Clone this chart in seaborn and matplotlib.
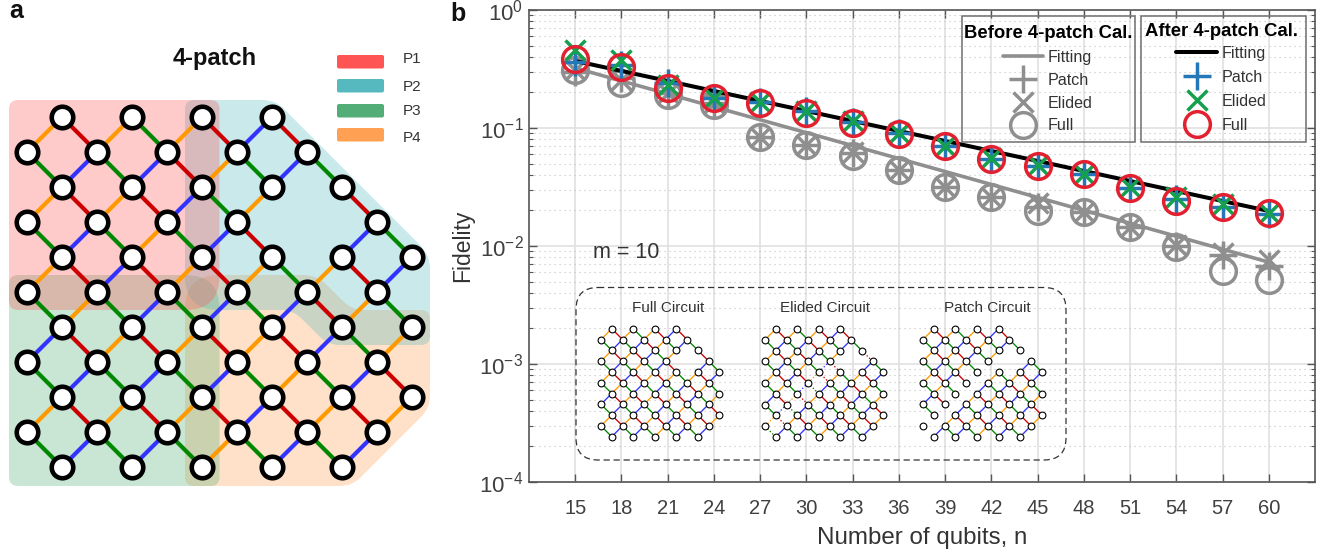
import numpy as np
import pandas as pd
import matplotlib
matplotlib.use("Agg")
import matplotlib.pyplot as plt
import seaborn as sns
from matplotlib.collections import LineCollection
from matplotlib.lines import Line2D
from matplotlib.patches import FancyBboxPatch, PathPatch, Rectangle
from matplotlib.path import Path
from matplotlib.ticker import FixedLocator, LogLocator, NullFormatter

# ---------- panel b data ----------
qubits = [15, 18, 21, 24, 27, 30, 33, 36, 39, 42, 45, 48, 51, 54, 57, 60]
before_patch = [.300, .265, .198, .163, .0839, .0718, .0618, .0441, .0316, .0260, .0215, .0195, .01449, .0100, .00839, .00677]
before_elided = [.310, .255, .198, .163, .0839, .0718, .0626, .0441, .0316, .0260, .0231, .0195, .0146, .0102, .00873, .0076]
before_full = [.310, .242, .1905, .1566, .0839, .0718, .0579, .0441, .0316, .0260, .0199, .0195, .01449, .00981, .00618, .00515]
after_patch = [.365, .342, .240, .180, .167, .138, .113, .091, .0705, .055, .0478, .0405, .0312, .025, .0216, .0188]
after_elided = [.458, .377, .231, .180, .166, .139, .115, .091, .071, .0555, .0487, .0407, .0315, .0262, .0226, .019]
after_full = [.384, .329, .218, .180, .163, .134, .111, .089, .0704, .0546, .0476, .0407, .031, .0241, .0214, .019]
fit_n = [15, 60]
before_fit = [.3225, .0073]
after_fit = [.37, .0198]
y_ticks = [1e-4, 1e-3, 1e-2, 1e-1, 1e0]

# ---------- lattice data (occupied columns per row, edge colour per row gap) ----------
row_cols = [
    [1, 3, 5, 7], [0, 2, 4, 6, 8], [1, 3, 5, 7, 9], [0, 2, 4, 6, 10],
    [1, 3, 5, 7, 9, 11], [0, 2, 4, 6, 8, 10], [1, 3, 5, 7, 9, 11], [0, 2, 4, 6, 8, 10],
    [1, 3, 5, 7, 9, 11], [0, 2, 4, 6, 8, 10], [1, 3, 5, 7, 9],
]
gap_colours = [
    "OROGORBR", "GBGBROGBG", "ORORBGOR", "GBGOGBRBG", "ORBROROGORB", "GOGBGBGBROG",
    "BROROROR" "BGO", "GBGBGBGOGBR", "ORORORBRORO", "GBGBGOGBGB",
]
cut_edges = [(2, 9), (3, 6), (4, 5), (5, 4), (6, 3), (7, 2), (8, 1), (9, 0)]
edge_palette = {"R": "#CC0000", "G": "#008800", "B": "#3333FF", "O": "#FF9900"}

patch_names = ["P1", "P2", "P3", "P4"]
patch_colours = ["#FF5050", "#52B8BE", "#4FAC73", "#FF9E4F"]
circuit_names = ["Full Circuit", "Elided Circuit", "Patch Circuit"]

W, H = 1338, 560
TXT = "#333333"
GRAY, BLUE, GREEN, RED = "#8F8F8F", "#2478B8", "#14A04C", "#E3202F"

sns.set_theme(style="ticks")
plt.rcParams["font.family"] = ["Liberation Sans", "DejaVu Sans"]
plt.rcParams["mathtext.default"] = "regular"
plt.rcParams["axes.unicode_minus"] = False

fig = plt.figure(figsize=(W / 100, H / 100), dpi=100, facecolor="white")


def px_axes(x0, y0, x1, y1, zorder):
    return fig.add_axes([x0 / W, 1 - y1 / H, (x1 - x0) / W, (y1 - y0) / H], zorder=zorder)


# ---------- panel b ----------
ax = px_axes(529, 10, 1315, 482, 1)
ax.set_yscale("log")
frame = pd.DataFrame({"n": qubits, "bp": before_patch, "be": before_elided, "bf": before_full,
                      "ap": after_patch, "ae": after_elided, "af": after_full})
fits = pd.DataFrame({"n": fit_n, "b": before_fit, "a": after_fit})


def marks(col, colour, marker, ms, mew):
    sns.lineplot(data=frame, x="n", y=col, ax=ax, estimator=None, errorbar=None, sort=False, legend=False,
                 color=colour, linestyle="", marker=marker, markersize=ms, markerfacecolor="none",
                 markeredgecolor=colour, markeredgewidth=mew, zorder=4, clip_on=False)


MS = {"+": 19.5, "x": 14.5, "o": 18.5}
MW = {"+": 2.5, "x": 2.5, "o": 2.5}
for col, mk in zip(["bp", "be", "bf"], ["+", "x", "o"]):
    marks(col, GRAY, mk, MS[mk], MW[mk])
sns.lineplot(data=fits, x="n", y="b", ax=ax, color=GRAY, linewidth=2.6, estimator=None, errorbar=None, legend=False, zorder=4)
sns.lineplot(data=fits, x="n", y="a", ax=ax, color="black", linewidth=2.9, estimator=None, errorbar=None, legend=False, zorder=4)
for col, colour, mk in zip(["ap", "ae", "af"], [BLUE, GREEN, RED], ["+", "x", "o"]):
    marks(col, colour, mk, MS[mk], MW[mk])

ax.set_xlim(12, 63)
ax.set_ylim(1e-4, 1)
ax.xaxis.set_major_locator(FixedLocator(qubits))
ax.yaxis.set_major_locator(FixedLocator(y_ticks))
ax.yaxis.set_minor_locator(LogLocator(base=10, subs=np.arange(2, 10), numticks=12))
ax.yaxis.set_minor_formatter(NullFormatter())
ax.tick_params(axis="both", which="major", direction="in", length=6, width=1.0, color="#555555",
               top=True, right=True, labelcolor="#404040")
ax.tick_params(axis="x", labelsize=14.5, pad=12)
ax.tick_params(axis="y", labelsize=16, pad=4)
ax.tick_params(axis="y", which="minor", direction="in", length=3, width=0.8, color="#555555", right=True, left=True)
ax.grid(True, which="major", color="#E0E0E0", linewidth=1.2)
ax.grid(True, which="minor", axis="y", color="#C2C2C2", linewidth=0.8, linestyle=(0, (1, 3.5)))
ax.set_axisbelow(True)
for s in ax.spines.values():
    s.set_visible(True)
    s.set_color("#555555")
    s.set_linewidth(1.2)
ax.set_xlabel("Number of qubits, n", fontsize=17.4, color=TXT, labelpad=6.5)
ax.set_ylabel("Fidelity", fontsize=16.5, color=TXT, labelpad=4)


def make_legend(title, cols, line_colour, line_w, x0, y0, spacing, title_gap):
    hs = [Line2D([], [], color=line_colour, lw=line_w, label="Fitting")]
    for lab, c, mk in zip(["Patch", "Elided", "Full"], cols, ["+", "x", "o"]):
        hs.append(Line2D([], [], color=c, linestyle="", marker=mk, markersize=MS[mk], markerfacecolor="none",
                         markeredgecolor=c, markeredgewidth=MW[mk], label=lab))
    leg = ax.legend(handles=hs, title=title, loc="upper left", bbox_to_anchor=(x0 / W, 1 - y0 / H),
                    bbox_transform=fig.transFigure, fontsize=11.6, borderaxespad=0, borderpad=0.28,
                    labelspacing=spacing, handlelength=2.5, handletextpad=0.3, frameon=False,
                    title_fontproperties={"weight": "bold", "size": 13.3})
    leg._legend_box.sep = title_gap
    for t in leg.get_texts():
        t.set_color(TXT)
    leg.get_title().set_color("black")
    leg.set_zorder(6)
    ax.add_artist(leg)


make_legend("Before 4-patch Cal.", [GRAY] * 3, GRAY, 2.6, 959, 20.5, 0.49, 5.6)
make_legend("After 4-patch Cal.", [BLUE, GREEN, RED], "black", 2.9, 1140.5, 18.5, 0.56, 4)
ax.legend_ = None

# ---------- overlay in pixel coordinates ----------
ov = fig.add_axes([0, 0, 1, 1], zorder=2)
ov.set_xlim(0, W)
ov.set_ylim(H, 0)
ov.axis("off")

for x0, x1 in [(962, 1135), (1141, 1306)]:
    ov.add_patch(Rectangle((x0, 15.5), x1 - x0, 126, facecolor="none", edgecolor="#6E6E6E", linewidth=1.1))


def rounded(verts, radii):
    n = len(verts)
    codes, pts = [], []
    for i in range(n):
        p = np.array(verts[i], float)
        a = np.array(verts[i - 1], float)
        b = np.array(verts[(i + 1) % n], float)
        r = radii[i]
        p1 = p + (a - p) / np.linalg.norm(a - p) * r
        p2 = p + (b - p) / np.linalg.norm(b - p) * r
        pts.append(p1)
        codes.append(Path.MOVETO if i == 0 else Path.LINETO)
        pts += [p, p2]
        codes += [Path.CURVE3, Path.CURVE3]
    pts.append(pts[0])
    codes.append(Path.CLOSEPOLY)
    return Path(pts, codes)


R = 34
regions = [
    ([(9, 100), (219.5, 100), (219.5, 310), (9, 310)], [9, 9, R, 9]),
    ([(185, 100), (275, 100), (430, 255), (430, 345), (328, 345), (293, 310), (185, 310)], [9, 12, 14, 9, 12, 12, R]),
    ([(9, 275), (219.5, 275), (219.5, 486), (9, 486)], [9, R, 9, 9]),
    ([(185, 275), (317, 275), (352, 310), (430, 310), (430, 408), (352, 486), (185, 486)], [R, 14, 12, 9, 12, 12, 9]),
]
for (verts, radii), c in reversed(list(zip(regions, patch_colours))):
    ov.add_patch(PathPatch(rounded(verts, radii), facecolor=c, edgecolor="none", alpha=0.3, zorder=1))

for name, c, top, ty in zip(patch_names, patch_colours, [55, 79, 104, 128], [59, 87, 111, 138]):
    ov.add_patch(FancyBboxPatch((337, top), 47, 13.5, boxstyle="round,pad=0,rounding_size=2", facecolor=c,
                                edgecolor="none", alpha=0.98))
    ov.text(403, ty, name, fontsize=11, color=TXT, va="center", ha="left")

ov.text(215, 59, "4-patch", fontsize=17, fontweight="bold", color="#111111", ha="center", va="center")
ov.text(9, 11, "a", fontsize=18, fontweight="bold", color="#111111", ha="left", va="center")
ov.text(450, 14, "b", fontsize=18, fontweight="bold", color="#111111", ha="left", va="center")
ov.text(593, 252, "m = 10", fontsize=15.5, color=TXT, ha="left", va="center")

ov.add_patch(FancyBboxPatch((576, 287.5), 490, 172.5, boxstyle="round,pad=0,rounding_size=22", facecolor="none",
                            edgecolor="#333333", linewidth=0.9, linestyle=(0, (5, 3))))
for name, cx in zip(circuit_names, [668, 825, 987]):
    ov.text(cx, 308, name, fontsize=11, color=TXT, ha="center", va="center")


# ---------- lattices ----------
def lattice(x0, y0, dx, dy, lw, s, node_lw, mode):
    pad = 20
    a = px_axes(x0 - pad, y0 - pad, x0 + 11 * dx + pad, y0 + 10 * dy + pad, 3)
    solid, solid_c, dotted, dotted_c = [], [], [], []
    for g, codes in enumerate(gap_colours):
        ups, lows = row_cols[g], row_cols[g + 1]
        pairs = sorted([(u, l) for u in ups for l in lows if abs(u - l) == 1], key=lambda t: t[0] + t[1])
        for (u, l), code in zip(pairs, codes):
            seg = [(u, g), (l, g + 1)]
            if (g, u) in cut_edges:
                if mode == "patch":
                    continue
                if mode == "elided":
                    dotted.append(seg)
                    dotted_c.append(edge_palette[code])
                    continue
            solid.append(seg)
            solid_c.append(edge_palette[code])
    a.add_collection(LineCollection(solid, colors=solid_c, linewidths=lw, zorder=1))
    if dotted:
        a.add_collection(LineCollection(dotted, colors=dotted_c, linewidths=lw, linestyles=[(0, (1, 1.6))], zorder=1))
    nodes = pd.DataFrame([(c, r) for r, cs in enumerate(row_cols) for c in cs], columns=["col", "row"])
    sns.scatterplot(data=nodes, x="col", y="row", ax=a, s=s, color="white", edgecolor="black", linewidth=node_lw,
                    legend=False, zorder=2, clip_on=False)
    a.set_xlim(-pad / dx, 11 + pad / dx)
    a.set_ylim(10 + pad / dy, -pad / dy)
    a.axis("off")


lattice(27, 117, 35, 35, 3.0, 240, 3.3, "full")
lattice(601, 328.7, 10.76, 10.8, 0.95, 24, 0.8, "full")
lattice(765, 329, 10.76, 10.8, 0.95, 24, 0.8, "elided")
lattice(923, 328.7, 10.8, 10.8, 0.95, 24, 0.8, "patch")

fig.savefig("out.png", dpi=100, facecolor="white")
